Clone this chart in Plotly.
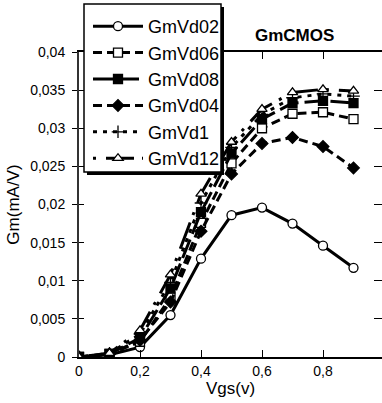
import plotly.graph_objects as go

vgs = [0, 0.1, 0.2, 0.3, 0.4, 0.5, 0.6, 0.7, 0.8, 0.9]
gm_vd02 = [0, 0.0003, 0.0013, 0.0055, 0.0129, 0.0186, 0.0196, 0.0175, 0.0146, 0.0117]
gm_vd06 = [0, 0.0004, 0.0020, 0.0078, 0.0176, 0.0254, 0.0300, 0.0319, 0.0321, 0.0312]
gm_vd08 = [0, 0.0004, 0.0025, 0.0090, 0.0190, 0.0267, 0.0312, 0.0333, 0.0336, 0.0333]
gm_vd04 = [0, 0.0004, 0.0022, 0.0072, 0.0165, 0.0240, 0.0280, 0.0288, 0.0276, 0.0248]
gm_vd1 = [0, 0.0005, 0.0030, 0.0098, 0.0202, 0.0275, 0.0318, 0.0340, 0.0345, 0.0342]
gm_vd12 = [0, 0.0005, 0.0035, 0.0108, 0.0214, 0.0282, 0.0325, 0.0347, 0.0351, 0.0349]

# name, values, dash, symbol, fill
series = [
    ("GmVd02", gm_vd02, "solid", "circle", "white"),
    ("GmVd06", gm_vd06, "9px,5px", "square", "white"),
    ("GmVd08", gm_vd08, "20px,6px", "square", "black"),
    ("GmVd04", gm_vd04, "9px,5px", "diamond", "black"),
    ("GmVd1", gm_vd1, "4px,6px", "cross-thin", "black"),
    ("GmVd12", gm_vd12, "3px,10px,28px,8px", "triangle-up", "white"),
]

FONT = "Arial, Liberation Sans, sans-serif"
fig = go.Figure()
for name, ys, dash, sym, fill in series:
    fig.add_trace(go.Scatter(
        x=vgs, y=ys, name=name, mode="lines+markers",
        line=dict(color="black", width=3, dash=dash),
        marker=dict(symbol=sym, size=9, color=fill,
                    line=dict(color="black", width=1.3)),
        legendgroup=name,
    ))

# invisible traces carrying extra tick axes (right side, inner left)
fig.add_trace(go.Scatter(x=[0], y=[0], yaxis="y2", showlegend=False, mode="markers",
                         marker=dict(opacity=0), hoverinfo="skip"))
fig.add_trace(go.Scatter(x=[0], y=[0], yaxis="y3", showlegend=False, mode="markers",
                         marker=dict(opacity=0), hoverinfo="skip"))

def px2x(p):
    return (p - 79) / 303.0
def px2y(p):
    return (357 - p) / 305.0

shapes = [
    dict(type="rect", xref="paper", yref="paper", x0=px2x(87), x1=px2x(224), y0=px2y(175), y1=px2y(7),
         fillcolor="black", line=dict(width=0), layer="above"),
    dict(type="rect", xref="paper", yref="paper", x0=px2x(84), x1=px2x(221), y0=px2y(172), y1=px2y(4),
         fillcolor="white", line=dict(color="black", width=1.5), layer="above"),
]

ytv = [0, 0.005, 0.01, 0.015, 0.02, 0.025, 0.03, 0.035, 0.04]
ytt = ["0", "0,005", "0,01", "0,015", "0,02", "0,025", "0,03", "0,035", "0,04"]
xtv = [0, 0.2, 0.4, 0.6, 0.8]
xtt = ["0", "0,2", "0,4", "0,6", "0,8"]

fig.update_layout(
    width=382, height=403,
    margin=dict(l=79, r=0, t=52, b=46),
    paper_bgcolor="white", plot_bgcolor="white",
    separators=", ",
    font=dict(family=FONT, size=14, color="black"),
    showlegend=True,
    legend=dict(x=px2x(88), y=px2y(8), xanchor="left", yanchor="top",
                bgcolor="rgba(0,0,0,0)", borderwidth=0, tracegroupgap=0,
                font=dict(family=FONT, size=18, color="black"), itemwidth=50),
    shapes=shapes,
    annotations=[dict(text="<b>GmCMOS</b>", xref="paper", yref="paper",
                      x=px2x(294), y=px2y(35), xanchor="center", yanchor="middle",
                      showarrow=False,
                      font=dict(family=FONT, size=17, color="black"))],
    xaxis=dict(range=[0, 303/305.0], tickvals=xtv, ticktext=xtt,
               ticks="inside", ticklen=7, tickcolor="black", showline=True, linecolor="black",
               linewidth=1.5, mirror="ticks", showgrid=False, zeroline=False,
               title=dict(text="Vgs(v)", standoff=4), tickfont=dict(size=14)),
    yaxis=dict(range=[0, 0.04], tickvals=ytv, ticktext=ytt,
               ticks="outside", ticklen=5, tickcolor="black", showline=True, linecolor="#333",
               linewidth=2, showgrid=False, zeroline=False, ticklabelstandoff=4,
               title=dict(text="Gm(mA/V)", standoff=6), tickfont=dict(size=14)),
    yaxis2=dict(range=[0, 0.04], overlaying="y", side="right", tickvals=ytv,
                ticks="inside", ticklen=8, tickcolor="black", showticklabels=False,
                showline=False, showgrid=False, zeroline=False),
    yaxis3=dict(range=[0, 0.04], overlaying="y", side="left", tickvals=ytv,
                ticks="inside", ticklen=5, tickcolor="black", showticklabels=False,
                showline=False, showgrid=False, zeroline=False),
)

fig.write_html("out.html")
